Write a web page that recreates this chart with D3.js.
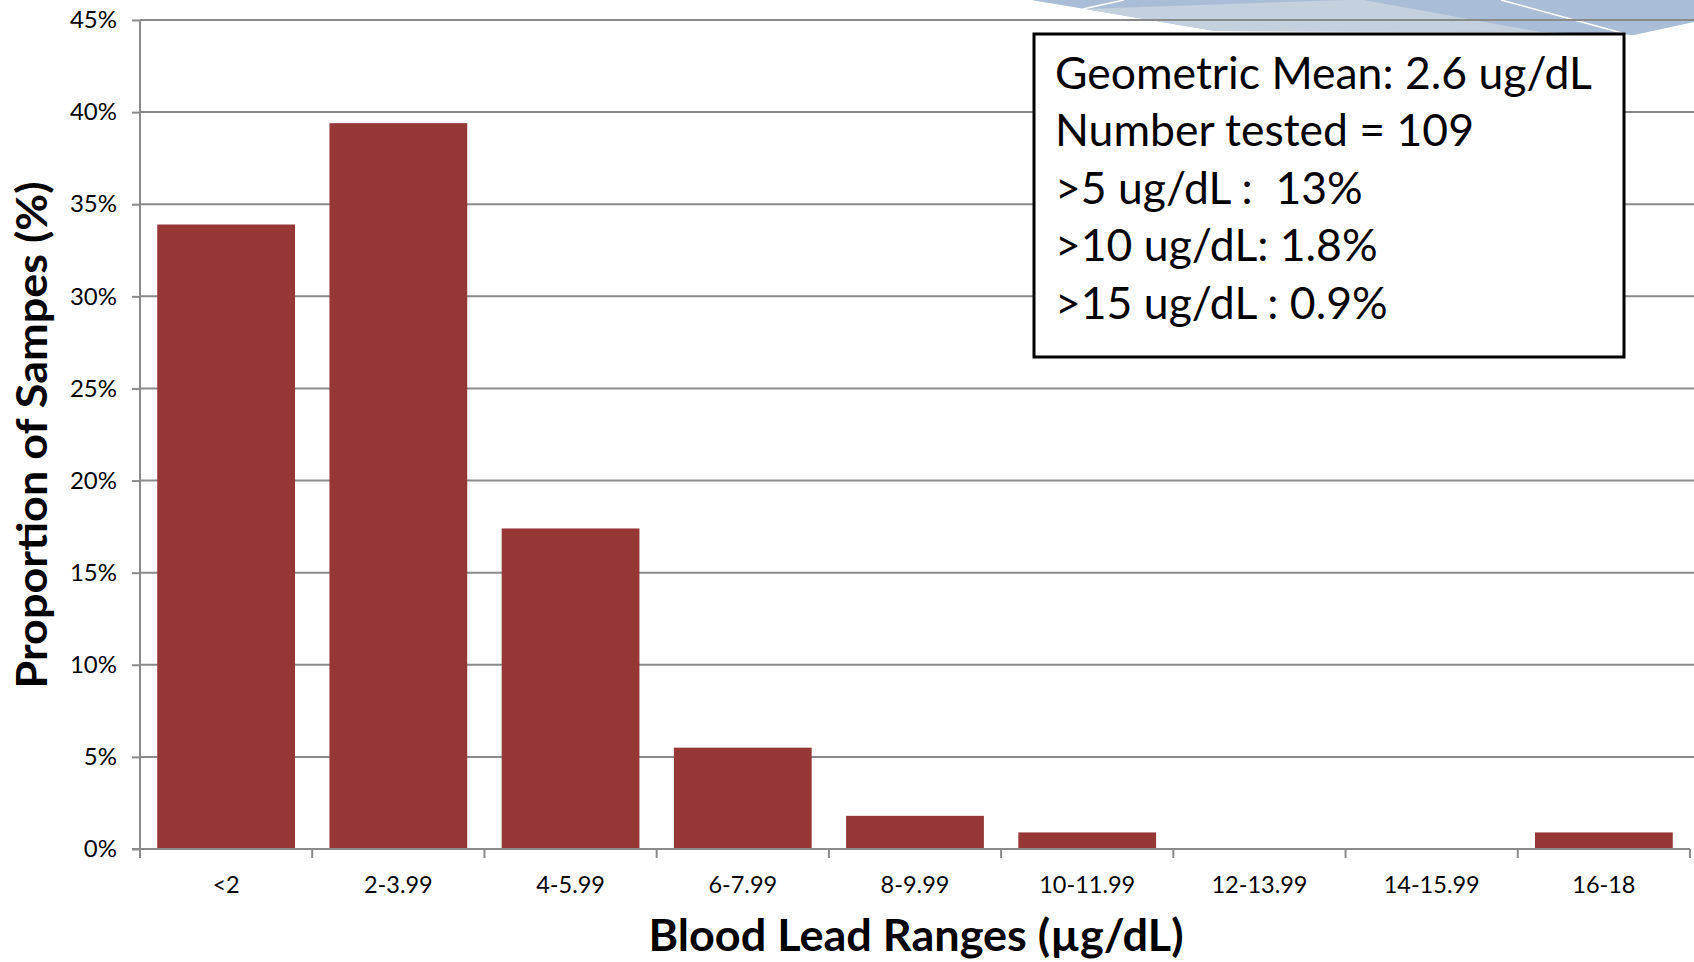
<!DOCTYPE html>
<html>
<head>
<meta charset="utf-8">
<script src="https://cdn.jsdelivr.net/npm/d3@7"></script>
<style>
  body { margin: 0; background: #fff; }
  svg { display: block; }
  text { font-family: Lato, "Open Sans", sans-serif; }
</style>
</head>
<body>
<div id="chart"></div>
<script>
var categories = ["<2", "2-3.99", "4-5.99", "6-7.99", "8-9.99", "10-11.99", "12-13.99", "14-15.99", "16-18"];
var values = [33.9, 39.4, 17.4, 5.5, 1.8, 0.9, 0, 0, 0.9];
var yTicks = [0, 5, 10, 15, 20, 25, 30, 35, 40, 45];
var boxLines = ["Geometric Mean: 2.6 ug/dL", "Number tested = 109", ">5 ug/dL :  13%", ">10 ug/dL: 1.8%", ">15 ug/dL : 0.9%"];

var width = 1694;
var height = 962;

var svg = d3.select("#chart")
  .append("svg")
  .attr("width", width)
  .attr("height", height);

// slide decoration at top right
var deco = svg.append("g");
deco.append("path")
  .attr("d", "M1031,0 L1694,0 L1694,22 L1634,35 L1540,32 L1215,31 L1085,9 Z")
  .attr("fill", "#aabdd6");
deco.append("path")
  .attr("d", "M1085,9 L1345,0 L1364,0 L1540,32 L1215,31 Z")
  .attr("fill", "#c3d0dd");
deco.append("line")
  .attr("x1", 1083).attr("y1", 9).attr("x2", 1124).attr("y2", 0)
  .attr("stroke", "#fff").attr("stroke-width", 1.5);
deco.append("line")
  .attr("x1", 1501).attr("y1", 0).attr("x2", 1622).attr("y2", 33)
  .attr("stroke", "#fff").attr("stroke-width", 1.5);

var x = d3.scaleBand()
  .domain(categories)
  .range([140, 1690])
  .paddingInner(0.2)
  .paddingOuter(0.1);

var y = d3.scaleLinear()
  .domain([0, 45])
  .range([849, 20]);

// gridlines
svg.append("g")
  .selectAll("line")
  .data(yTicks.filter(function(d){ return d > 0; }))
  .enter()
  .append("line")
  .attr("x1", 140)
  .attr("x2", width)
  .attr("y1", function(d){ return y(d); })
  .attr("y2", function(d){ return y(d); })
  .attr("stroke", "#8a8a8a")
  .attr("stroke-width", 2);

// bars
svg.append("g")
  .selectAll("rect")
  .data(values)
  .enter()
  .append("rect")
  .attr("x", function(d, i){ return x(categories[i]); })
  .attr("y", function(d){ return y(d); })
  .attr("width", x.bandwidth())
  .attr("height", function(d){ return y(0) - y(d); })
  .attr("fill", "#953735");

// y axis
var yAxis = d3.axisLeft(y)
  .tickValues(yTicks)
  .tickSize(8)
  .tickPadding(15)
  .tickFormat(function(d){ return d + "%"; });

var yg = svg.append("g")
  .attr("transform", "translate(140,0)")
  .call(yAxis);
yg.select(".domain").remove();
yg.append("line")
  .attr("x1", 0).attr("x2", 0)
  .attr("y1", y(45)).attr("y2", y(0) + 8)
  .attr("stroke", "#8a8a8a").attr("stroke-width", 2);
yg.selectAll(".tick line").attr("stroke", "#8a8a8a").attr("stroke-width", 2);
yg.selectAll(".tick text")
  .attr("fill", "#000")
  .style("font-size", "24px")
  .style("font-family", "Lato, sans-serif");

// x axis, ticks on category edges
var xg = svg.append("g");
xg.append("line")
  .attr("x1", 132).attr("x2", 1690)
  .attr("y1", y(0)).attr("y2", y(0))
  .attr("stroke", "#8a8a8a").attr("stroke-width", 2);
var step = x.step();
var edges = categories.map(function(c){ return x(c) - x.paddingInner() * step / 2; });
edges.push(1690);
xg.selectAll(".xtick")
  .data(edges)
  .enter()
  .append("line")
  .attr("class", "xtick")
  .attr("x1", function(d){ return d; })
  .attr("x2", function(d){ return d; })
  .attr("y1", y(0))
  .attr("y2", y(0) + 9)
  .attr("stroke", "#8a8a8a").attr("stroke-width", 2);
xg.selectAll(".xlabel")
  .data(categories)
  .enter()
  .append("text")
  .attr("class", "xlabel")
  .attr("x", function(d){ return x(d) + x.bandwidth() / 2; })
  .attr("y", 893)
  .attr("text-anchor", "middle")
  .style("font-size", "23.5px")
  .text(function(d){ return d; });

// axis titles
svg.append("text")
  .attr("x", 916)
  .attr("y", 951)
  .attr("text-anchor", "middle")
  .style("font-size", "44px")
  .style("font-weight", "bold")
  .attr("textLength", 535)
  .attr("lengthAdjust", "spacingAndGlyphs")
  .text("Blood Lead Ranges (µg/dL)");

svg.append("text")
  .attr("transform", "translate(47,435) rotate(-90)")
  .attr("text-anchor", "middle")
  .style("font-size", "42px")
  .style("font-weight", "bold")
  .attr("textLength", 507)
  .attr("lengthAdjust", "spacingAndGlyphs")
  .text("Proportion of Sampes (%)");

// annotation box
svg.append("rect")
  .attr("x", 1034)
  .attr("y", 34)
  .attr("width", 590)
  .attr("height", 323)
  .attr("fill", "#fff")
  .attr("stroke", "#000")
  .attr("stroke-width", 3);

svg.append("g")
  .selectAll("text")
  .data(boxLines)
  .enter()
  .append("text")
  .attr("x", 1055)
  .attr("y", function(d, i){ return 89 + i * 57.4; })
  .style("font-size", "44.5px")
  .style("white-space", "pre")
  .text(function(d){ return d; });
</script>
</body>
</html>
